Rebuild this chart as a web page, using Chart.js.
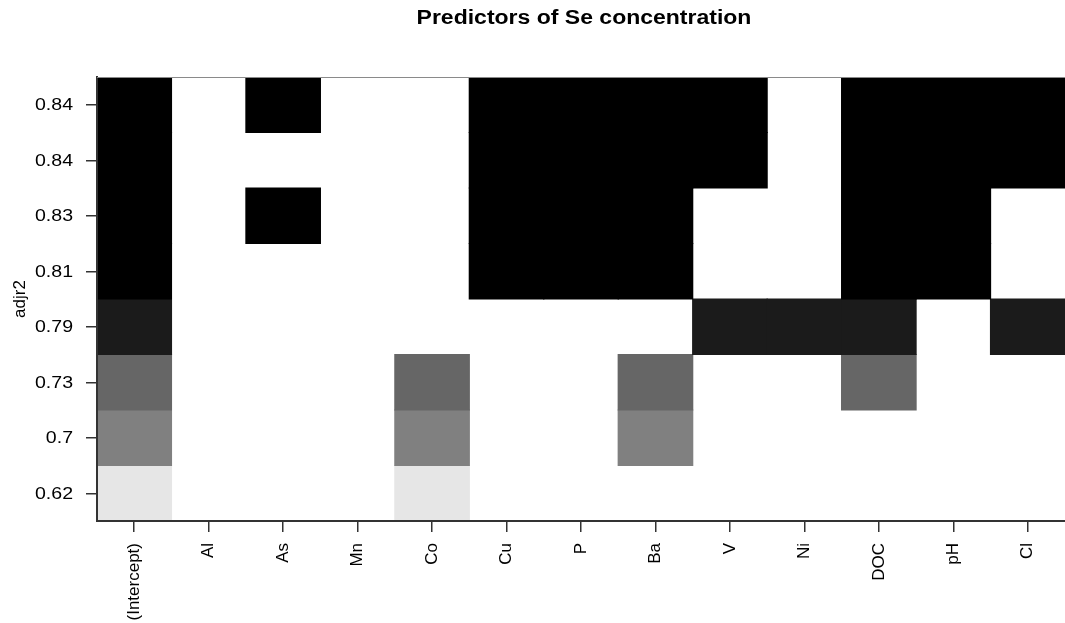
<!DOCTYPE html>
<html>
<head>
<meta charset="utf-8">
<script src="https://cdn.jsdelivr.net/npm/chart.js@4/dist/chart.umd.min.js"></script>
<style>
  html, body { margin: 0; padding: 0; background: #fff; }
  #wrap { width: 1065px; height: 623px; position: relative; }
</style>
</head>
<body>
<div id="wrap"><canvas id="subsetChart"></canvas></div>
<script>
// model table, rows top to bottom as in the plot
const variables = ['(Intercept)', 'Al', 'As', 'Mn', 'Co', 'Cu', 'P', 'Ba', 'V', 'Ni', 'DOC', 'pH', 'Cl'];
const adjr2Labels = ['0.84', '0.84', '0.83', '0.81', '0.79', '0.73', '0.7', '0.62'];
const rowShades = ['#000000', '#000000', '#000000', '#000000', '#1b1b1b', '#666666', '#808080', '#e6e6e6'];
const row1 = [1, 0, 1, 0, 0, 1, 1, 1, 1, 0, 1, 1, 1];
const row2 = [1, 0, 0, 0, 0, 1, 1, 1, 1, 0, 1, 1, 1];
const row3 = [1, 0, 1, 0, 0, 1, 1, 1, 0, 0, 1, 1, 0];
const row4 = [1, 0, 0, 0, 0, 1, 1, 1, 0, 0, 1, 1, 0];
const row5 = [1, 0, 0, 0, 0, 0, 0, 0, 1, 1, 1, 0, 1];
const row6 = [1, 0, 0, 0, 1, 0, 0, 1, 0, 0, 1, 0, 0];
const row7 = [1, 0, 0, 0, 1, 0, 0, 1, 0, 0, 0, 0, 0];
const row8 = [1, 0, 0, 0, 1, 0, 0, 0, 0, 0, 0, 0, 0];
const modelRows = [row1, row2, row3, row4, row5, row6, row7, row8];

const FONT = "'Liberation Sans', Arial, sans-serif";
const STRETCH = 1.15; // the original image is a bit wider than tall

// each row is a dataset of floating bars spanning [i, i+1]
const datasets = modelRows.map((row, i) => ({
  label: adjr2Labels[i],
  data: row.map(v => v ? [i, i + 1] : null),
  backgroundColor: rowShades[i],
  borderWidth: 0,
  inflateAmount: 0.6,
  barPercentage: 1,
  categoryPercentage: 1,
  grouped: false
}));

// title, y tick labels (stretched sideways) and thin top frame line
const frameTitlePlugin = {
  id: 'frameTitle',
  afterDraw(chart) {
    const ctx = chart.ctx;
    const a = chart.chartArea;
    const yScale = chart.scales.y;
    ctx.save();
    ctx.strokeStyle = '#8a8a8a';
    ctx.lineWidth = 1;
    ctx.beginPath();
    ctx.moveTo(a.left, a.top + 0.5);
    ctx.lineTo(a.right, a.top + 0.5);
    ctx.stroke();

    ctx.fillStyle = '#000';
    ctx.textBaseline = 'middle';

    ctx.save();
    ctx.translate((a.left + a.right) / 2 + 3, 18);
    ctx.scale(STRETCH, 1);
    ctx.font = `bold 20px ${FONT}`;
    ctx.textAlign = 'center';
    ctx.fillText('Predictors of Se concentration', 0, 0);
    ctx.restore();

    ctx.font = `17px ${FONT}`;
    ctx.textAlign = 'right';
    adjr2Labels.forEach((lab, i) => {
      ctx.save();
      ctx.translate(73, yScale.getPixelForValue(i + 0.5) + 1);
      ctx.scale(STRETCH, 1);
      ctx.fillText(lab, 0, 0);
      ctx.restore();
    });
    ctx.restore();
  }
};

new Chart(document.getElementById('subsetChart').getContext('2d'), {
  type: 'bar',
  data: { labels: variables, datasets: datasets },
  options: {
    responsive: true,
    maintainAspectRatio: false,
    animation: false,
    layout: { padding: { top: 77, right: 0, bottom: 0, left: 0 } },
    plugins: {
      legend: { display: false },
      tooltip: { enabled: false },
      title: { display: false }
    },
    scales: {
      x: {
        type: 'category',
        offset: true,
        grid: { display: true, drawOnChartArea: false, drawTicks: true, offset: false, tickLength: 11, color: '#333', lineWidth: 1.5 },
        border: { display: true, color: '#333', width: 2, z: 1 },
        ticks: {
          color: '#000',
          font: { family: FONT, size: 17 },
          minRotation: 90,
          maxRotation: 90,
          padding: 11,
          autoSkip: false
        },
        afterFit(scale) { scale.height = 102; }
      },
      y: {
        type: 'linear',
        min: 0,
        max: 8,
        reverse: true,
        grid: { display: true, drawOnChartArea: false, drawTicks: true, tickLength: 11, color: '#333', lineWidth: 1.5 },
        border: { display: true, color: '#333', width: 2, z: 1 },
        afterBuildTicks(scale) {
          scale.ticks = adjr2Labels.map((_, i) => ({ value: i + 0.5 }));
        },
        ticks: { display: false },
        title: {
          display: true,
          text: 'adjr2',
          color: '#000',
          font: { family: FONT, size: 17 },
          padding: { top: 10, bottom: 0 }
        },
        afterFit(scale) { scale.width = 97; }
      }
    }
  },
  plugins: [frameTitlePlugin]
});
</script>
</body>
</html>
